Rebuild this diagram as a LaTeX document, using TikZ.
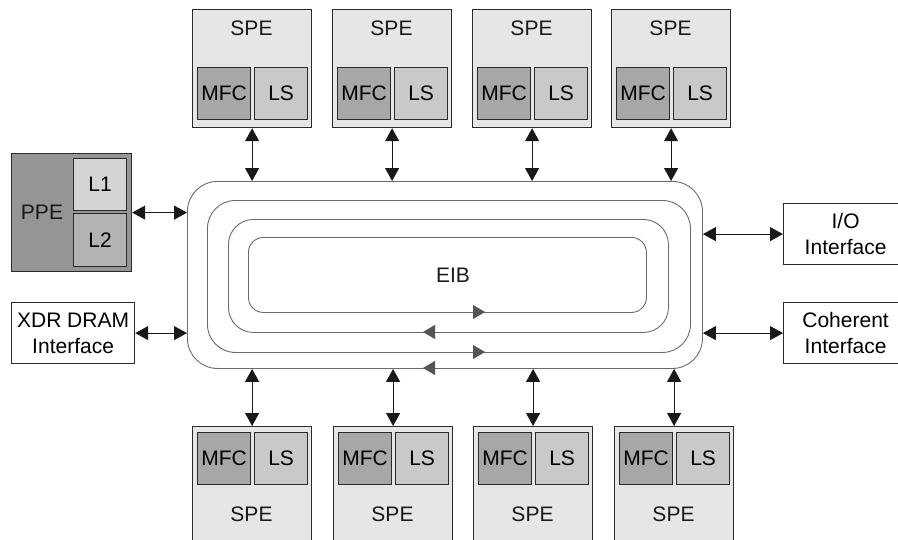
\documentclass[tikz,border=0pt]{standalone}
\usepackage{fontspec}
\setmainfont{Liberation Sans}
\usetikzlibrary{arrows.meta,calc}

\definecolor{edge}{HTML}{2B2B2B}
\definecolor{ringline}{HTML}{6A6A6A}
\definecolor{spefill}{HTML}{E6E6E6}
\definecolor{mfcfill}{HTML}{A7A7A7}
\definecolor{lsfill}{HTML}{C9C9C9}
\definecolor{ppefill}{HTML}{959595}
\definecolor{lonefill}{HTML}{D4D4D4}
\definecolor{ltwofill}{HTML}{B3B3B3}
\definecolor{tipgray}{HTML}{555555}

\tikzset{
  box/.style={draw=edge, line width=1.2pt, inner sep=0pt, anchor=north west},
  spebox/.style={box, fill=spefill, minimum width=119pt, minimum height=118pt},
  mfcbox/.style={box, fill=mfcfill, minimum width=53pt, minimum height=52pt},
  lsbox/.style={box, fill=lsfill, minimum width=53pt, minimum height=52pt},
  iobox/.style={box, fill=white, minimum width=123pt, minimum height=61pt, align=center},
  ring/.style={draw=ringline, line width=0.9pt, inner sep=0pt, anchor=north west},
  biarrow/.style={draw=black!90, line width=1.1pt,
    {Triangle[length=13pt 0 0,width=14pt 0 0]}-{Triangle[length=13pt 0 0,width=14pt 0 0]}},
  flow/.style={draw=ringline, line width=0.9pt,
    -{Triangle[length=12pt 0 0,width=14pt 0 0,color=tipgray]}},
  lbl/.style={font=\fontsize{21}{26}\selectfont, text=black!90, inner sep=0pt, align=center}
}

\begin{document}
\begin{tikzpicture}[x=1pt, y=-1pt, font=\fontsize{21}{26}\selectfont]
\useasboundingbox (0,0) rectangle (898,539);
\clip (0,0) rectangle (898,539);

% Element interconnect bus: four nested rings
\node[ring, rounded corners=30pt, minimum width=515pt, minimum height=187pt] (eib) at (187,181) {};
\node[ring, rounded corners=28pt, minimum width=483pt, minimum height=152pt] (r2) at (207,200) {};
\node[ring, rounded corners=25pt, minimum width=440pt, minimum height=113pt] (r3) at (228,219) {};
\node[ring, rounded corners=15pt, minimum width=398pt, minimum height=75pt] (r4) at (248,237) {};
\node[lbl] (eibtext) at (453,275) {EIB};

% ring direction marks
\draw[flow] (460,312) -- (485,312);
\draw[flow] (450,332) -- (423,332);
\draw[flow] (460,352) -- (485,352);
\draw[flow] (450,368) -- (423,368);

% upper row of SPEs
\foreach \i/\x in {1/192, 2/332, 3/472, 4/611} {
  \node[spebox] (ts\i) at (\x,9) {};
  \node[lbl] (tst\i) at ($(\x,28)+(59.5,0)$) {SPE};
  \node[mfcbox] (tm\i) at ($(\x,67)+(5,0)$) {MFC};
  \node[lsbox] (tl\i) at ($(\x,67)+(62,0)$) {LS};
  \draw[biarrow] (ts\i.south) -- (ts\i.south |- eib.north);
}

% lower row of SPEs
\foreach \i/\x in {1/192, 2/333, 3/473, 4/614} {
  \node[spebox] (bs\i) at (\x,426) {};
  \node[lbl] (bst\i) at ($(\x,514)+(59.5,0)$) {SPE};
  \node[mfcbox] (bm\i) at ($(\x,432)+(5,0)$) {MFC};
  \node[lsbox] (bl\i) at ($(\x,432)+(62,0)$) {LS};
  \draw[biarrow] (bs\i.north) -- (bs\i.north |- eib.south);
}

% PPE with its caches
\node[box, fill=ppefill, minimum width=120pt, minimum height=118pt] (ppe) at (11,153) {};
\node[lbl] (ppetext) at (42,212) {PPE};
\node[box, fill=lonefill, minimum width=53pt, minimum height=52pt] (l1) at (73,158) {L1};
\node[box, fill=ltwofill, minimum width=53pt, minimum height=53pt] (l2) at (73,213) {L2};
\draw[biarrow] (ppe.east) -- (ppe.east -| eib.west);

% external interfaces
\node[iobox] (xdr) at (11,302) {XDR DRAM\\Interface};
\draw[biarrow] (xdr.east) -- (xdr.east -| eib.west);

\node[iobox, minimum width=124pt] (io) at (783,203) {I/O\\Interface};
\draw[biarrow] (io.west) -- (io.west -| eib.east);

\node[iobox, minimum width=124pt] (coh) at (783,302) {Coherent\\Interface};
\draw[biarrow] (coh.west) -- (coh.west -| eib.east);
\end{tikzpicture}
\end{document}
